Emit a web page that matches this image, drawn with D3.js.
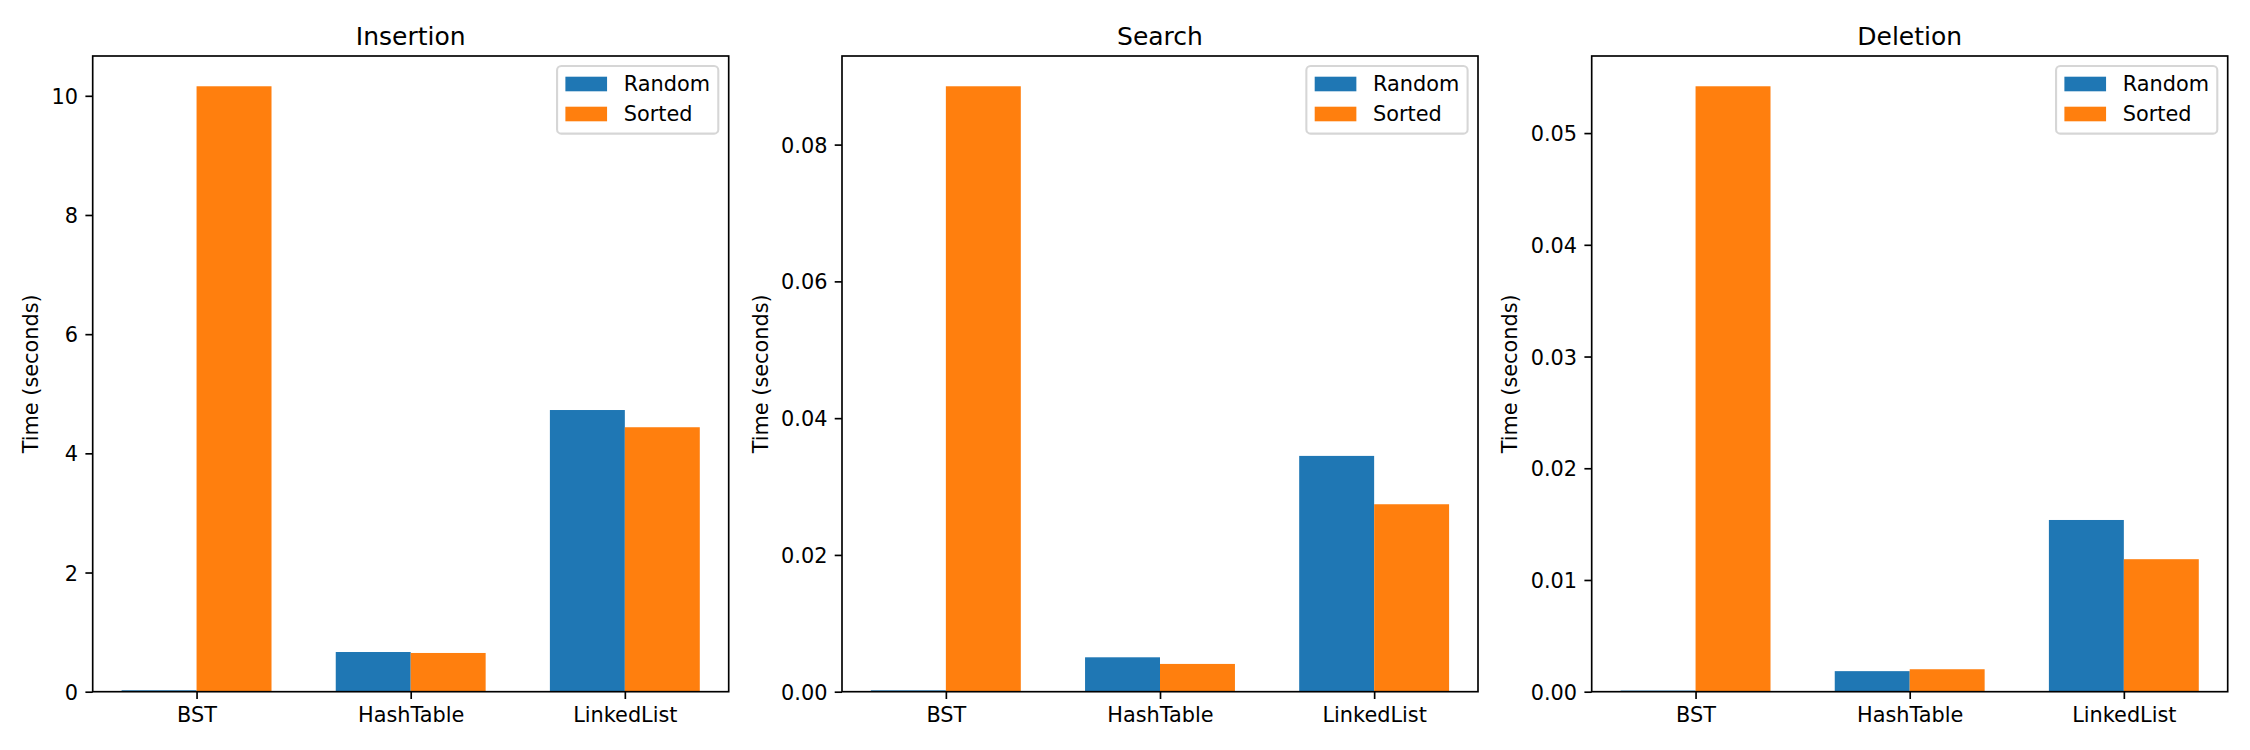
<!DOCTYPE html>
<html>
<head>
<meta charset="utf-8">
<script src="https://cdn.jsdelivr.net/npm/d3@7"></script>
<style>
  html, body { margin: 0; padding: 0; background: #ffffff; }
  svg { display: block; font-family: "DejaVu Sans", sans-serif; }
</style>
</head>
<body>
<svg id="chart" width="2250" height="750"></svg>
<script>
// ---------------- data ----------------
const categories = ["BST", "HashTable", "LinkedList"];
const seriesNames = ["Random", "Sorted"];
const panelTitles = ["Insertion", "Search", "Deletion"];

const insertionRandom = [0.024, 0.666, 4.727];
const insertionSorted = [10.16, 0.650, 4.438];

const searchRandom = [0.0002, 0.00503, 0.03448];
const searchSorted = [0.08853, 0.00406, 0.02741];

const deletionRandom = [0.0001, 0.00184, 0.01537];
const deletionSorted = [0.05419, 0.00201, 0.01186];

const insertionTicks = [0, 2, 4, 6, 8, 10];
const insertionTickLabels = ["0", "2", "4", "6", "8", "10"];
const searchTicks = [0, 0.02, 0.04, 0.06, 0.08];
const searchTickLabels = ["0.00", "0.02", "0.04", "0.06", "0.08"];
const deletionTicks = [0, 0.01, 0.02, 0.03, 0.04, 0.05];
const deletionTickLabels = ["0.00", "0.01", "0.02", "0.03", "0.04", "0.05"];

const yLabel = "Time (seconds)";
const colors = ["#1f77b4", "#ff7f0e"];

// ---------------- layout ----------------
const svg = d3.select("#chart");
svg.append("rect").attr("width", 2250).attr("height", 750).attr("fill", "#ffffff");

const fs = 20.83;          // 10pt at 150 dpi
const titleFs = 25;        // 12pt
const lw = 1.67;           // 0.8pt
const tickLen = 7.3, tickPad = 7.3;
const axTop = 56, axH = 635.7, axW = 636;
const axLefts = [92.7, 842, 1591.7];
const barWidth = 0.35;

const panels = [
  { title: panelTitles[0], series: [insertionRandom, insertionSorted], ticks: insertionTicks, labels: insertionTickLabels },
  { title: panelTitles[1], series: [searchRandom, searchSorted], ticks: searchTicks, labels: searchTickLabels },
  { title: panelTitles[2], series: [deletionRandom, deletionSorted], ticks: deletionTicks, labels: deletionTickLabels }
];

panels.forEach((p, pi) => {
  const left = axLefts[pi];
  const g = svg.append("g").attr("transform", `translate(${left},${axTop})`);

  const x = d3.scaleLinear().domain([-0.485, 2.485]).range([0, axW]);
  const maxV = d3.max(p.series.flat());
  const y = d3.scaleLinear().domain([0, maxV * 1.05]).range([axH, 0]);

  // bars
  p.series.forEach((vals, si) => {
    const off = (si === 0 ? -1 : 1) * barWidth / 2;
    g.append("g").selectAll("rect").data(vals).join("rect")
      .attr("x", (d, i) => x(i + off - barWidth / 2))
      .attr("width", x(barWidth) - x(0))
      .attr("y", d => y(d))
      .attr("height", d => y(0) - y(d))
      .attr("fill", colors[si]);
  });

  // y axis
  const yAxis = d3.axisLeft(y).tickValues(p.ticks)
    .tickFormat((d, i) => p.labels[i])
    .tickSizeInner(tickLen).tickSizeOuter(0).tickPadding(tickPad);
  const yg = g.append("g").call(yAxis);
  yg.select(".domain").remove();
  yg.selectAll(".tick line").attr("stroke", "#000").attr("stroke-width", lw);
  yg.selectAll(".tick text").attr("font-size", fs).attr("fill", "#000")
    .attr("font-family", "DejaVu Sans").attr("dy", "0.36em");

  // x axis
  const xAxis = d3.axisBottom(x).tickValues([0, 1, 2])
    .tickFormat((d, i) => categories[i])
    .tickSizeInner(tickLen).tickSizeOuter(0).tickPadding(tickPad);
  const xg = g.append("g").attr("transform", `translate(0,${axH})`).call(xAxis);
  xg.select(".domain").remove();
  xg.selectAll(".tick line").attr("stroke", "#000").attr("stroke-width", lw);
  xg.selectAll(".tick text").attr("font-size", fs).attr("fill", "#000")
    .attr("font-family", "DejaVu Sans").attr("dy", "0.75em");

  // spines
  g.append("rect").attr("x", 0).attr("y", 0).attr("width", axW).attr("height", axH)
    .attr("fill", "none").attr("stroke", "#000").attr("stroke-width", lw);

  // title
  g.append("text").attr("x", axW / 2).attr("y", -11.5)
    .attr("text-anchor", "middle").attr("font-size", titleFs).attr("fill", "#000")
    .text(p.title);

  // y label
  let maxTW = 0;
  yg.selectAll(".tick text").each(function () {
    maxTW = Math.max(maxTW, this.getComputedTextLength());
  });
  const ylx = -(tickLen + tickPad + maxTW + 8.33 + 4.9);
  g.append("text")
    .attr("transform", `translate(${ylx},${axH / 2}) rotate(-90)`)
    .attr("text-anchor", "middle").attr("font-size", fs).attr("fill", "#000")
    .text(yLabel);

  // legend
  const lg = g.append("g");
  const texts = [];
  seriesNames.forEach((n, i) => {
    const t = lg.append("text").attr("font-size", fs).attr("fill", "#000").text(n);
    texts.push(t);
  });
  const maxLW = d3.max(texts.map(t => t.node().getComputedTextLength()));
  const boxW = 8.33 + 41.67 + 16.67 + maxLW + 8.33;
  const boxH = 67.6;
  const bx = axW - 10.4 - boxW;
  const by = 10.0;
  lg.insert("rect", ":first-child")
    .attr("x", bx).attr("y", by).attr("width", boxW).attr("height", boxH)
    .attr("rx", 4.2).attr("ry", 4.2)
    .attr("fill", "#ffffff").attr("fill-opacity", 0.8)
    .attr("stroke", "#cccccc").attr("stroke-opacity", 0.8).attr("stroke-width", 2.08);
  seriesNames.forEach((n, i) => {
    const base = by + 25 + i * 30;
    lg.append("rect").attr("x", bx + 8.33).attr("y", base - 14.3)
      .attr("width", 41.67).attr("height", 14.6).attr("fill", colors[i]);
    texts[i].attr("x", bx + 8.33 + 41.67 + 16.67).attr("y", base);
  });
});
</script>
</body>
</html>
